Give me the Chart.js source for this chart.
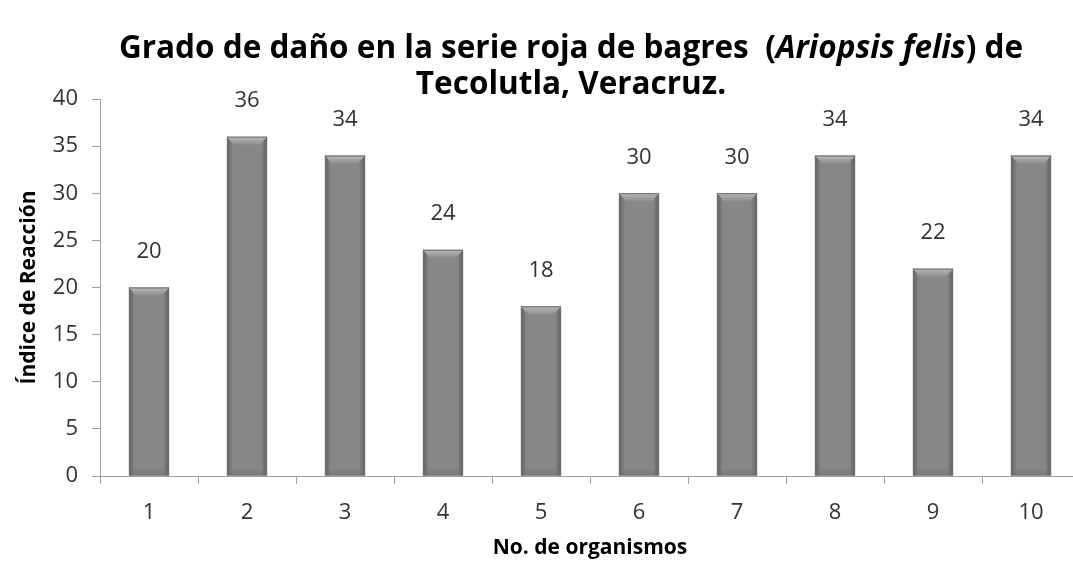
<!DOCTYPE html>
<html>
<head>
<meta charset="utf-8">
<script src="https://cdn.jsdelivr.net/npm/chart.js@4.4.0/dist/chart.umd.min.js"></script>
<style>
  html,body{margin:0;padding:0;background:#fff;overflow:hidden;}
  #wrap{position:relative;width:1085px;height:565px;}
  #title{position:absolute;left:71px;width:1000px;top:28px;text-align:center;
    font-family:"Open Sans",sans-serif;font-weight:bold;font-size:27px;line-height:36px;color:#000;}
  #title span{display:inline-block;white-space:nowrap;}
</style>
</head>
<body>
<div id="wrap">
  <canvas id="chart" width="1085" height="565"></canvas>
  <div id="title"><span id="t1">Grado de daño en la serie roja de bagres&nbsp; (<i>Ariopsis felis</i>) de</span><br><span>Tecolutla, Veracruz.</span></div>
</div>
<script>
const organismos=["1","2","3","4","5","6","7","8","9","10"];
const indice=[20,36,34,24,18,30,30,34,22,34];
const yTicks=[0,5,10,15,20,25,30,35,40];

const font="'Open Sans', sans-serif";

// fit title width to the reference (~905px for the first line)
const t=document.getElementById("title");
const w1=document.getElementById("t1").getBoundingClientRect().width;
t.style.fontSize=(27*905/w1).toFixed(1)+"px";

const valueLabels={
  id:"valueLabels",
  afterDatasetsDraw(chart){
    const ctx=chart.ctx;
    const meta=chart.getDatasetMeta(0);
    ctx.save();
    ctx.font="22px "+font; ctx.fillStyle="#333"; ctx.textAlign="center"; ctx.textBaseline="middle";
    meta.data.forEach((bar,i)=>{ ctx.fillText(indice[i], bar.x, bar.y-36); });
    ctx.restore();
  }
};

// bevel look of the bars
const bevel={
  id:"bevel",
  afterDatasetsDraw(chart){
    const ctx=chart.ctx;
    chart.getDatasetMeta(0).data.forEach(bar=>{
      const l=bar.x-bar.width/2, r=bar.x+bar.width/2, t=bar.y, b=bar.base;
      ctx.save();
      const g=ctx.createLinearGradient(l,0,r,0);
      g.addColorStop(0,"rgba(0,0,0,0.3)"); g.addColorStop(0.15,"rgba(0,0,0,0)");
      g.addColorStop(0.85,"rgba(0,0,0,0)"); g.addColorStop(1,"rgba(0,0,0,0.3)");
      ctx.fillStyle=g; ctx.fillRect(l,t,r-l,b-t);
      const tg=ctx.createLinearGradient(0,t,0,t+8);
      tg.addColorStop(0,"#b8b8b8"); tg.addColorStop(1,"#8e8e8e");
      ctx.fillStyle=tg;
      ctx.beginPath(); ctx.moveTo(l,t); ctx.lineTo(r,t); ctx.lineTo(r-7,t+8); ctx.lineTo(l+7,t+8); ctx.closePath(); ctx.fill();
      ctx.fillStyle="rgba(0,0,0,0.06)";
      ctx.beginPath(); ctx.moveTo(l,b); ctx.lineTo(r,b); ctx.lineTo(r-6,b-6); ctx.lineTo(l+6,b-6); ctx.closePath(); ctx.fill();
      ctx.strokeStyle="#707070"; ctx.lineWidth=1;
      ctx.strokeRect(l+0.5,t+0.5,r-l-1,b-t-1);
      ctx.restore();
    });
  }
};

new Chart(document.getElementById("chart"),{
  type:"bar",
  data:{ labels:organismos, datasets:[{ data:indice, backgroundColor:"#878787", borderWidth:0, barPercentage:0.41, categoryPercentage:1 }] },
  options:{
    responsive:false, animation:false,
    layout:{ padding:{ top:99, right:5, left:0, bottom:0 } },
    plugins:{ legend:{display:false}, tooltip:{enabled:false}, title:{display:false} },
    scales:{
      x:{
        grid:{ offset:true, drawOnChartArea:false, drawTicks:true, tickLength:8, color:"#a0a0a0" },
        border:{ color:"#a0a0a0" },
        ticks:{ font:{family:font,size:22}, color:"#333", padding:16 },
        title:{ display:true, text:"No. de organismos", font:{family:font,size:21,weight:"bold"}, color:"#000", padding:{top:2} },
        afterFit(s){ s.height=89; }
      },
      y:{
        min:0, max:40,
        afterBuildTicks(s){ s.ticks=yTicks.map(v=>({value:v})); },
        grid:{ drawOnChartArea:false, drawTicks:true, tickLength:8, color:"#a0a0a0" },
        border:{ color:"#a0a0a0" },
        ticks:{ font:{family:font,size:22}, color:"#333", padding:14 },
        title:{ display:true, text:"Índice de Reacción", font:{family:font,size:21,weight:"bold"}, color:"#000", padding:{top:16} },
        afterFit(s){ s.width=100; }
      }
    }
  },
  plugins:[bevel,valueLabels]
});
</script>
</body>
</html>
